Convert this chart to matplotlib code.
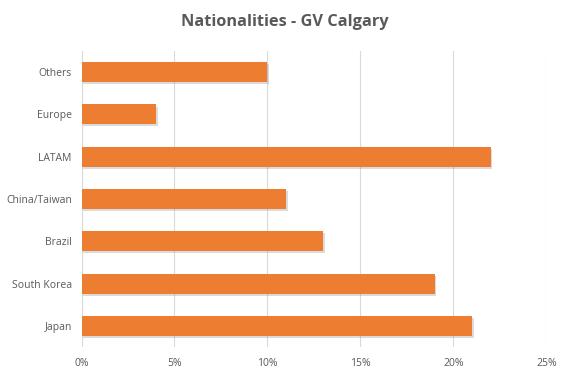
import matplotlib.pyplot as plt
import matplotlib.patheffects as pe
from matplotlib.ticker import FuncFormatter

# data (percent)
categories = ["Japan", "South Korea", "Brazil", "China/Taiwan", "LATAM", "Europe", "Others"]
shares = [21, 19, 13, 11, 22, 4, 10]
xticks = [0, 5, 10, 15, 20, 25]

W, H = 569, 376
fig = plt.figure(figsize=(W / 100, H / 100), dpi=100)
ax = fig.add_axes([81.5 / W, (H - 347) / H, (546.3 - 81.5) / W, (347 - 51) / H])

bars = ax.barh(range(len(categories)), shares, height=0.47, color="#ED7D31", zorder=3)
for b in bars:
    b.set_path_effects([pe.SimplePatchShadow(offset=(1.2, -1.5), shadow_rgbFace="#8a8a8a", alpha=0.3),
                        pe.Normal()])

ax.set_xlim(0, 25)
ax.set_ylim(-0.5, len(categories) - 0.5)
ax.set_xticks(xticks)
ax.xaxis.set_major_formatter(FuncFormatter(lambda v, p: f"{v:.0f}%"))
ax.set_yticks(range(len(categories)))
ax.set_yticklabels(categories)
ax.grid(axis="x", color="#D9D9D9", linewidth=0.8, zorder=0)
ax.grid(axis="y", visible=False)
for s in ax.spines.values():
    s.set_visible(False)
ax.tick_params(length=0, labelsize=7.5, labelcolor="#595959")
ax.tick_params(axis="x", pad=8)
ax.tick_params(axis="y", pad=7)
for lbl in ax.get_xticklabels() + ax.get_yticklabels():
    lbl.set_family("Open Sans")

fig.text(0.5, (H - 22) / H, "Nationalities - GV Calgary", ha="center", va="center",
         fontsize=11.8, fontweight="bold", color="#595959", family="Open Sans")

fig.savefig("out.png", dpi=100)
